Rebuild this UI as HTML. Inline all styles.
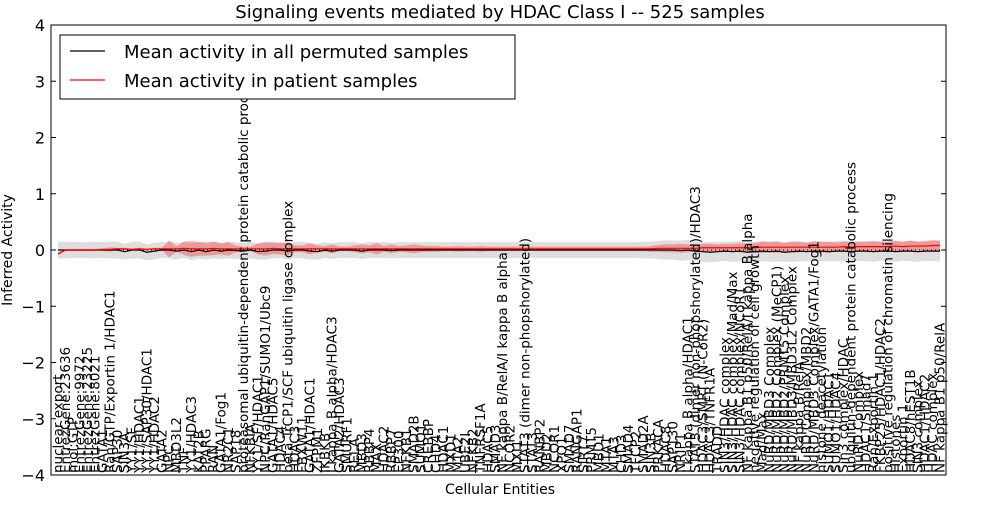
<!DOCTYPE html>
<html><head><meta charset="utf-8"><style>
body{margin:0;background:#fff;width:1000px;height:500px;overflow:hidden}
svg text{font-family:"DejaVu Sans","Liberation Sans",sans-serif}
</style></head><body>
<svg id="chart" width="1000" height="500" xmlns="http://www.w3.org/2000/svg">
<text x="500" y="18" text-anchor="middle" font-size="18">Signaling events mediated by HDAC Class I -- 525 samples</text>
<g id="plot"></g>
<text x="500" y="494" text-anchor="middle" font-size="14">Cellular Entities</text>
<text transform="translate(12,250) rotate(-90)" text-anchor="middle" font-size="14">Inferred Activity</text>
<g>
<rect x="60" y="35" width="455" height="64" fill="#fff" stroke="#000" stroke-width="1"/>
<g><line x1="70" y1="51" x2="105" y2="51" stroke="#000" stroke-width="1.2"/><text x="124" y="58" font-size="18">Mean activity in all permuted samples</text></g>
<g><line x1="70" y1="80" x2="105" y2="80" stroke="#f00" stroke-width="1.2"/><text x="124" y="87" font-size="18">Mean activity in patient samples</text></g>
</g>
</svg>
<script>
const labels=["nuclear export","EntrezGene:23636","mol:GTP","EntrezGene:9972","EntrezGene:23225","EntrezGene:8021","GATA1","Ran/GTP/Exportin 1/HDAC1","SAP30","SIN3A",
"YY1/SF","YY1/HDAC1","YY1/SAP30/HDAC1","YY1/HDAC2","GATA2","NPC","MBD3L2","TNF","YY1/HDAC3","KAT2B",
"PPARG","RAN","GATA1/Fog1","NR2C1","SAP18","proteasomal ubiquitin-dependent protein catabolic process","NFKBIA","YY1/SF/HDAC1","NPC/RanGAP1/SUMO1/Ubc9","GATA1/HDAC5",
"HDAC4","beta TrCP1/SCF ubiquitin ligase complex","HDAC3","FBXW11","GATA1/HDAC1","ZFPM1","IKBKB","I kappa B alpha/HDAC3","GATA2/HDAC3","SMURF1",
"RELA","MBD3","RBBP4","MAX","HDAC2","RBBP7","EP300","NFKB1","SMAD2B","SUMO1",
"CREBBP","CHD4","HDAC1","MXD1","MTA2","UBE2I","NFKB2","TNFRSF1A","HDAC5","SMAD3",
"NF kappa B/RelA/I kappa B alpha","NCOR2","MXI1","STAT3 (dimer non-phopshorylated)","STAT3","RANBP2","MBD2","NCOR1","XPO1","SMAD7",
"RANGAP1","SIRT7","PRMT5","MBD1","MTA1","MTA3","CHD3","SMAD4","TFCP2","SMAD2A",
"SIN3B","PRKACA","HDAC8","SAP130","NRIP1","I kappa B alpha/HDAC1","STAT3 (dimer non-phopshorylated)/HDAC3","HDAC3/SMRT (N-CoR2)","HDAC3/TNFR1A","TRADD",
"SIN3/HDAC complex","SIN3/HDAC complex/Mad/Max","SIN3/HDAC complex/NCoR1","NF kappa B1 p50/RelA/I kappa B alpha","negative regulation of cell growth","Mad/Max","NuRD/MBD3 Complex","NuRD/MBD2 Complex (MeCP1)","NuRD/MBD2/PRMT5 Complex","NuRD/MBD3/MBD3L2 Complex",
"NF kappa B/RelA","NuRD Complex/MBD2","NuRD/MBD3 Complex/GATA1/Fog1","histone deacetylation","SUMO1/HDAC1","SUMO1/HDAC4","Sin3 complex/HDAC","ubiquitin-dependent protein catabolic process","NuRD Complex","HDAC1/Smad7",
"Ran/Exportin 1","FKBP25/HDAC1/HDAC2","positive regulation of chromatin silencing","Histones","Exportin 1","HDAC8/hEST1B","SIN3 complex","HDAC1/HDAC2","HDAC complex","NF kappa B1 p50/RelA"];
const permMean=[0.0,0.0,0.0,0.0,0.0,0.0,0.0,0.0,0.0,-0.03,
0.0,0.0,-0.04,-0.02,0.0,0.0,-0.02,0.0,-0.03,0.0,
-0.03,0.0,-0.02,0.0,-0.01,-0.02,0.0,-0.03,-0.02,0.0,
0.0,-0.02,0.0,0.0,-0.02,-0.03,0.0,-0.02,0.0,0.0,
0.0,-0.02,0.0,0.0,0.0,-0.01,0.0,0.0,0.0,0.0,
0.0,0.0,0.0,0.0,0.0,0.0,0.0,0.0,0.0,0.0,
0.0,0.0,0.0,0.0,0.0,0.0,0.0,0.0,0.0,0.0,
0.0,0.0,0.0,0.0,0.0,0.0,0.0,0.0,0.0,0.0,
0.0,0.0,0.0,0.0,-0.01,0.0,-0.02,-0.03,-0.04,-0.03,
-0.02,-0.03,-0.02,-0.04,-0.03,-0.02,-0.03,-0.02,-0.04,-0.03,
-0.02,-0.03,-0.02,-0.02,-0.03,-0.02,-0.02,-0.03,-0.02,-0.02,
-0.03,-0.02,-0.02,-0.03,-0.02,-0.02,-0.03,-0.02,-0.02,-0.02];
const patMean=[-0.07,0.0,0.0,0.0,0.0,0.0,0.01,0.01,0.02,0.02,
0.01,0.02,0.01,0.02,0.02,0.02,0.02,0.03,0.02,0.02,
0.02,0.03,0.02,0.02,0.02,0.02,0.02,0.02,0.02,0.03,
0.02,0.02,0.02,0.02,0.02,0.02,0.02,0.02,0.02,0.02,
0.02,0.02,0.02,0.02,0.02,0.02,0.02,0.02,0.02,0.02,
0.02,0.02,0.02,0.02,0.02,0.02,0.02,0.02,0.02,0.02,
0.02,0.02,0.02,0.02,0.02,0.02,0.02,0.02,0.02,0.02,
0.02,0.02,0.02,0.02,0.02,0.02,0.02,0.02,0.02,0.02,
0.02,0.03,0.03,0.03,0.03,0.03,0.03,0.04,0.04,0.04,
0.04,0.04,0.04,0.04,0.04,0.05,0.05,0.05,0.05,0.05,
0.05,0.05,0.05,0.05,0.05,0.05,0.06,0.05,0.06,0.06,
0.06,0.06,0.06,0.07,0.06,0.07,0.07,0.07,0.08,0.08];
const patBand=[0.02,0.02,0.02,0.02,0.02,0.02,0.02,0.04,0.02,0.02,
0.02,0.02,0.02,0.02,0.02,0.15,0.05,0.12,0.14,0.12,
0.12,0.12,0.1,0.12,0.06,0.04,0.04,0.1,0.12,0.1,
0.1,0.12,0.06,0.06,0.1,0.06,0.05,0.08,0.04,0.04,
0.06,0.08,0.06,0.1,0.05,0.08,0.05,0.06,0.08,0.06,
0.05,0.05,0.04,0.04,0.05,0.04,0.04,0.05,0.04,0.04,
0.04,0.04,0.04,0.04,0.04,0.04,0.04,0.04,0.04,0.04,
0.04,0.04,0.04,0.04,0.04,0.04,0.04,0.04,0.04,0.04,
0.05,0.06,0.07,0.07,0.08,0.07,0.06,0.07,0.07,0.06,
0.07,0.07,0.08,0.07,0.08,0.1,0.09,0.1,0.08,0.1,
0.09,0.08,0.1,0.09,0.1,0.08,0.09,0.1,0.09,0.08,
0.1,0.09,0.08,0.1,0.09,0.1,0.08,0.09,0.1,0.09];
const permBand=[0.15,0.15,0.14,0.14,0.14,0.15,0.14,0.15,0.15,0.14,
0.15,0.15,0.14,0.15,0.14,0.15,0.15,0.14,0.15,0.15,
0.14,0.15,0.14,0.15,0.15,0.14,0.15,0.14,0.15,0.15,
0.14,0.15,0.14,0.15,0.15,0.14,0.14,0.14,0.14,0.14,
0.14,0.14,0.14,0.14,0.14,0.14,0.14,0.14,0.14,0.14,
0.14,0.14,0.14,0.14,0.14,0.14,0.14,0.14,0.14,0.14,
0.14,0.14,0.14,0.14,0.14,0.14,0.14,0.14,0.14,0.14,
0.14,0.14,0.14,0.14,0.14,0.14,0.14,0.14,0.14,0.15,
0.15,0.16,0.17,0.17,0.18,0.18,0.17,0.18,0.18,0.18,
0.17,0.18,0.18,0.18,0.17,0.18,0.18,0.18,0.17,0.18,
0.18,0.17,0.18,0.18,0.17,0.18,0.18,0.18,0.17,0.18,
0.18,0.17,0.18,0.18,0.17,0.18,0.18,0.17,0.18,0.18];
const yTicks=[4,3,2,1,0,-1,-2,-3,-4];
const NS="http://www.w3.org/2000/svg";
const L=51,R=946,T=25,B=475;
const n=labels.length;
function xs(i){return 58+i*(940-58)/(n-1);}
function ys(v){return T+(4-v)*(B-T)/8;}
const g=document.getElementById('plot');
function mk(tag,attrs){const e=document.createElementNS(NS,tag);for(const k in attrs)e.setAttribute(k,attrs[k]);g.appendChild(e);return e;}
function band(mean,half,fill,op){let up=[],dn=[];for(let i=0;i<n;i++){up.push(xs(i)+','+ys(mean[i]+half[i]));dn.unshift(xs(i)+','+ys(mean[i]-half[i]));}return mk('polygon',{points:up.concat(dn).join(' '),fill:fill,'fill-opacity':op});}
const gb=band(permMean,permBand,'#d0d0d0',0.7);


const rb=band(patMean,patBand,'#ff0000',0.3);


const zl=mk('line',{x1:L,x2:R,y1:ys(0),y2:ys(0),stroke:'#000','stroke-dasharray':'1,3','stroke-width':1});


const bl=mk('polyline',{points:permMean.map((v,i)=>xs(i)+','+ys(v)).join(' '),fill:'none',stroke:'#000','stroke-width':1.2});


const rl=mk('polyline',{points:patMean.map((v,i)=>xs(i)+','+ys(v)).join(' '),fill:'none',stroke:'#f00','stroke-width':1.2});


for(let i=0;i<n;i++){
 const t=mk('text',{transform:'translate('+(xs(i)+4.5)+','+(B-2)+') rotate(-90)','font-size':13.5});
 t.textContent=labels[i];
 
 
}
yTicks.forEach(v=>{
 const y=ys(v);
 mk('line',{x1:L,x2:L+5,y1:y,y2:y,stroke:'#000'});
 mk('line',{x1:R-5,x2:R,y1:y,y2:y,stroke:'#000'});
 const t=mk('text',{x:L-6,y:y+6,'text-anchor':'end','font-size':16});
 t.textContent=(v<0?'\u2212'+(-v):String(v));
 
 
});
const fr=mk('rect',{x:L,y:T,width:R-L,height:B-T,fill:'none',stroke:'#000','stroke-width':1});


</script>
</body></html>
